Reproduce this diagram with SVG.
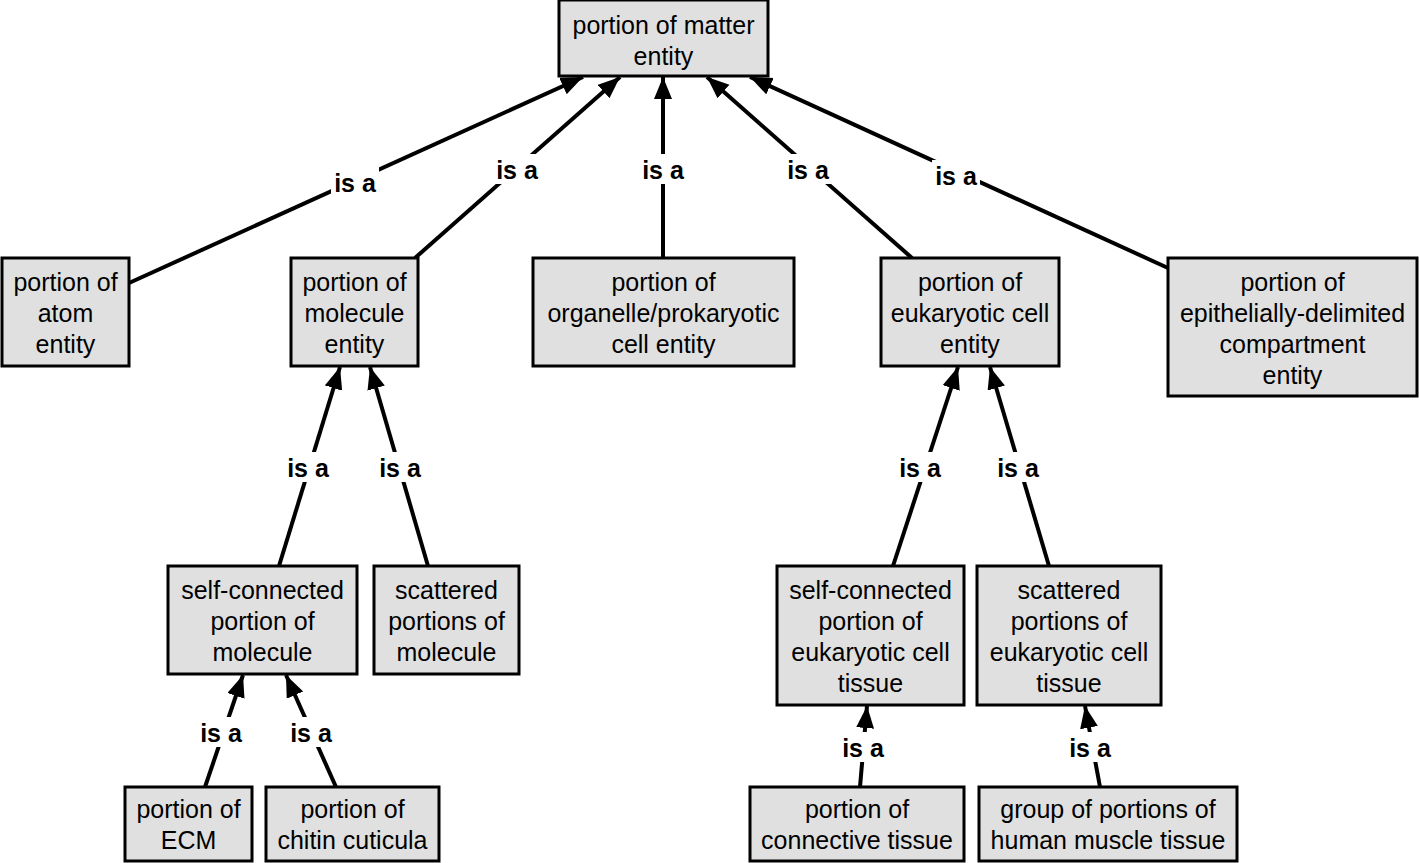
<svg xmlns="http://www.w3.org/2000/svg" width="1419" height="863" viewBox="0 0 1419 863">
<style>
.box{fill:#e0e0e0;stroke:#000;stroke-width:3}
.t{font-family:"Liberation Sans",Arial,sans-serif;font-size:25px;text-anchor:middle;fill:#000}
.e{stroke:#000;stroke-width:4;fill:none;marker-end:url(#ah)}
.lb{fill:#fff}
.l{font-family:"Liberation Sans",Arial,sans-serif;font-size:25px;font-weight:bold;text-anchor:middle;fill:#000}
</style>
<defs>
<marker id="ah" markerUnits="userSpaceOnUse" markerWidth="24" markerHeight="20" refX="22" refY="9" orient="auto">
<path d="M0,0 L22,9 L0,18 Z" fill="#000"/>
</marker>
</defs>
<rect width="1419" height="863" fill="#fff"/>
<g id="connectors">
<line class="e" x1="129" y1="283" x2="583" y2="77"/>
<line class="e" x1="415" y1="258" x2="620" y2="77"/>
<line class="e" x1="663" y1="258" x2="663" y2="77"/>
<line class="e" x1="912" y1="258" x2="707" y2="77"/>
<line class="e" x1="1168" y1="268" x2="750" y2="77"/>
<line class="e" x1="279" y1="566" x2="340" y2="367"/>
<line class="e" x1="428" y1="566" x2="370" y2="367"/>
<line class="e" x1="205" y1="787" x2="243" y2="675"/>
<line class="e" x1="336" y1="787" x2="286" y2="675"/>
<line class="e" x1="893" y1="566" x2="958" y2="367"/>
<line class="e" x1="1049" y1="566" x2="990" y2="367"/>
<line class="e" x1="860" y1="787" x2="867" y2="706"/>
<line class="e" x1="1100" y1="787" x2="1085" y2="706"/>
<g>
<rect class="lb" x="331" y="167" width="48" height="30"/><text class="l" x="355" y="192">is a</text>
<rect class="lb" x="493" y="154" width="48" height="30"/><text class="l" x="517" y="179">is a</text>
<rect class="lb" x="639" y="154" width="48" height="30"/><text class="l" x="663" y="179">is a</text>
<rect class="lb" x="784" y="154" width="48" height="30"/><text class="l" x="808" y="179">is a</text>
<rect class="lb" x="932" y="160" width="48" height="30"/><text class="l" x="956" y="185">is a</text>
<rect class="lb" x="284" y="452" width="48" height="30"/><text class="l" x="308" y="477">is a</text>
<rect class="lb" x="376" y="452" width="48" height="30"/><text class="l" x="400" y="477">is a</text>
<rect class="lb" x="896" y="452" width="48" height="30"/><text class="l" x="920" y="477">is a</text>
<rect class="lb" x="994" y="452" width="48" height="30"/><text class="l" x="1018" y="477">is a</text>
<rect class="lb" x="197" y="717" width="48" height="30"/><text class="l" x="221" y="742">is a</text>
<rect class="lb" x="287" y="717" width="48" height="30"/><text class="l" x="311" y="742">is a</text>
<rect class="lb" x="839" y="732" width="48" height="30"/><text class="l" x="863" y="757">is a</text>
<rect class="lb" x="1066" y="732" width="48" height="30"/><text class="l" x="1090" y="757">is a</text>
</g>
</g>
<g id="n_matter"><rect class="box" x="559" y="0" width="209" height="76"/><text class="t" x="663.5" y="34">portion of matter</text><text class="t" x="663.5" y="65">entity</text></g>
<g id="n_atom"><rect class="box" x="2" y="258" width="127" height="108"/><text class="t" x="65.5" y="291">portion of</text><text class="t" x="65.5" y="322">atom</text><text class="t" x="65.5" y="353">entity</text></g>
<g id="n_molecule"><rect class="box" x="291" y="258" width="127" height="108"/><text class="t" x="354.5" y="291">portion of</text><text class="t" x="354.5" y="322">molecule</text><text class="t" x="354.5" y="353">entity</text></g>
<g id="n_organelle"><rect class="box" x="533" y="258" width="261" height="108"/><text class="t" x="663.5" y="291">portion of</text><text class="t" x="663.5" y="322">organelle/prokaryotic</text><text class="t" x="663.5" y="353">cell entity</text></g>
<g id="n_eukcell"><rect class="box" x="881" y="258" width="178" height="108"/><text class="t" x="970" y="291">portion of</text><text class="t" x="970" y="322">eukaryotic cell</text><text class="t" x="970" y="353">entity</text></g>
<g id="n_epith"><rect class="box" x="1168" y="258" width="249" height="138"/><text class="t" x="1292.5" y="291">portion of</text><text class="t" x="1292.5" y="322">epithelially-delimited</text><text class="t" x="1292.5" y="353">compartment</text><text class="t" x="1292.5" y="384">entity</text></g>
<g id="n_selfmol"><rect class="box" x="168" y="566" width="189" height="108"/><text class="t" x="262.5" y="599">self-connected</text><text class="t" x="262.5" y="630">portion of</text><text class="t" x="262.5" y="661">molecule</text></g>
<g id="n_scatmol"><rect class="box" x="374" y="566" width="145" height="108"/><text class="t" x="446.5" y="599">scattered</text><text class="t" x="446.5" y="630">portions of</text><text class="t" x="446.5" y="661">molecule</text></g>
<g id="n_selfeuk"><rect class="box" x="777" y="566" width="187" height="139"/><text class="t" x="870.5" y="599">self-connected</text><text class="t" x="870.5" y="630">portion of</text><text class="t" x="870.5" y="661">eukaryotic cell</text><text class="t" x="870.5" y="692">tissue</text></g>
<g id="n_scateuk"><rect class="box" x="977" y="566" width="184" height="139"/><text class="t" x="1069" y="599">scattered</text><text class="t" x="1069" y="630">portions of</text><text class="t" x="1069" y="661">eukaryotic cell</text><text class="t" x="1069" y="692">tissue</text></g>
<g id="n_ecm"><rect class="box" x="125" y="787" width="127" height="74"/><text class="t" x="188.5" y="818">portion of</text><text class="t" x="188.5" y="849">ECM</text></g>
<g id="n_chitin"><rect class="box" x="266" y="787" width="173" height="74"/><text class="t" x="352.5" y="818">portion of</text><text class="t" x="352.5" y="849">chitin cuticula</text></g>
<g id="n_connective"><rect class="box" x="750" y="787" width="214" height="74"/><text class="t" x="857" y="818">portion of</text><text class="t" x="857" y="849">connective tissue</text></g>
<g id="n_muscle"><rect class="box" x="979" y="787" width="258" height="74"/><text class="t" x="1108" y="818">group of portions of</text><text class="t" x="1108" y="849">human muscle tissue</text></g>
</svg>
